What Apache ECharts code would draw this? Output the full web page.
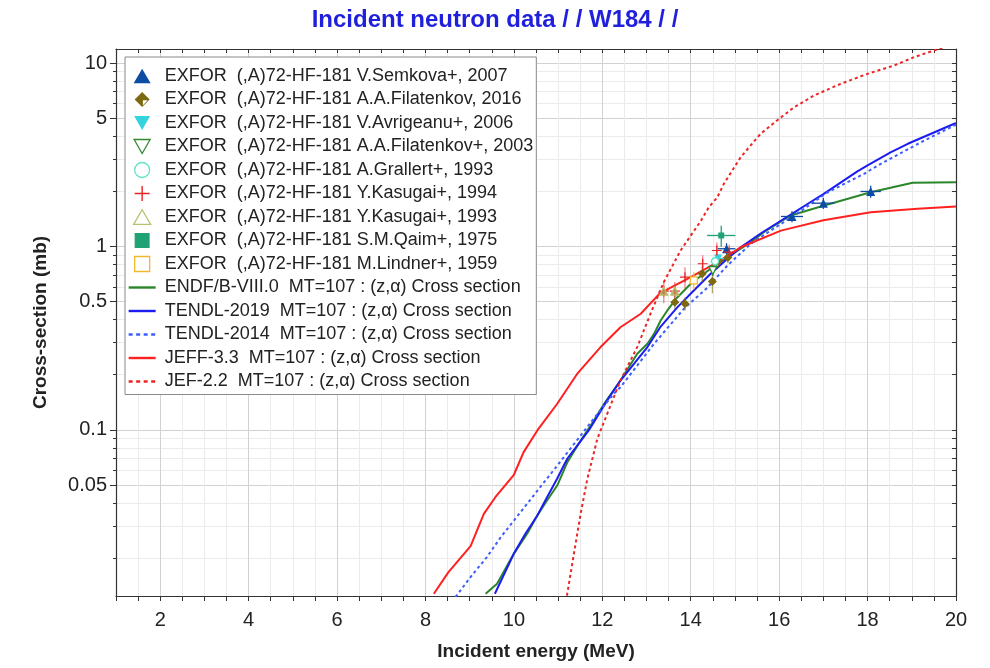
<!DOCTYPE html>
<html><head><meta charset="utf-8">
<script src="https://cdn.jsdelivr.net/npm/echarts@6/dist/echarts.min.js"></script>
<style>html,body{margin:0;padding:0;background:#fff}#c{width:990px;height:668px}</style>
</head><body><div id="c"></div>
<script>
// ---------- axis ticks / labels ----------
const xTickLabels = [2, 4, 6, 8, 10, 12, 14, 16, 18, 20];
const yTickLabels = [0.05, 0.1, 0.5, 1, 5, 10];
const yGridValues = [0.02, 0.03, 0.04, 0.05, 0.06, 0.07, 0.08, 0.09, 0.1, 0.2, 0.3, 0.4, 0.5, 0.6, 0.7, 0.8, 0.9, 1, 2, 3, 4, 5, 6, 7, 8, 9, 10];
const yRange = [0.01245, 11.92];
const xRange = [1, 20];

// ---------- EXFOR data (E in MeV, cross-section in mb) ----------
const semkovaE = [14.81, 16.29, 17.0, 18.07];
const semkovaXS = [0.972, 1.457, 1.722, 1.994];
const semkovaDE = [0.2, 0.25, 0.25, 0.23];
const semkovaDXS = [0.07, 0.1, 0.12, 0.15];

const filat16E = [13.64, 13.87, 14.26, 14.49, 14.63, 14.84];
const filat16XS = [0.497, 0.487, 0.71, 0.645, 0.829, 0.871];
const filat16DE = [0, 0, 0, 0, 0, 0];
const filat16DXS = [0.04, 0.04, 0.07, 0.09, 0.06, 0.06];

const avrigE = [14.62];
const avrigXS = [0.86];
const avrigDE = [0.14];
const avrigDXS = [0.05];

const filat03E = [14.5];
const filat03XS = [0.74];
const filat03DE = [0.05];
const filat03DXS = [0.05];

const grallE = [14.55];
const grallXS = [0.83];
const grallDE = [0.1];
const grallDXS = [0.05];

const kas94E = [13.39, 13.64, 13.87, 14.27, 14.59, 14.87];
const kas94XS = [0.571, 0.571, 0.68, 0.805, 0.951, 0.931];
const kas94DE = [0, 0, 0, 0, 0, 0];
const kas94DXS = [0.08, 0.07, 0.09, 0.09, 0.1, 0.09];

const kas93E = [13.39, 13.64];
const kas93XS = [0.571, 0.571];
const kas93DE = [0, 0];
const kas93DXS = [0.04, 0.04];

const qaimE = [14.69];
const qaimXS = [1.148];
const qaimDE = [0.32];
const qaimDXS = [0.15];

const lindE = [14.07];
const lindXS = [0.653];
const lindDE = [0];
const lindDXS = [0.07];

// ---------- evaluated cross sections ----------
const endfE = [9.36, 9.62, 10.0, 10.3, 10.53, 10.75, 10.98, 11.21, 11.51, 11.81, 12.04, 12.41, 12.79, 13.02, 13.17, 13.32, 13.47, 13.7, 14.0, 14.38, 14.83, 15.36, 15.66, 16.26, 17.02, 18.07, 19.02, 20.0];
const endfXS = [0.0128, 0.0145, 0.0212, 0.0272, 0.0342, 0.0413, 0.0498, 0.0668, 0.0877, 0.1126, 0.139, 0.186, 0.26, 0.295, 0.334, 0.395, 0.448, 0.529, 0.626, 0.735, 0.874, 1.055, 1.2, 1.475, 1.673, 1.976, 2.224, 2.24];

const tendl19E = [9.57, 10.0, 10.26, 10.53, 10.75, 10.98, 11.21, 11.51, 11.7, 12.11, 12.41, 13.02, 13.32, 13.7, 14.07, 14.45, 14.83, 15.13, 15.58, 16.11, 16.3, 16.73, 17.0, 17.77, 18.0, 18.53, 18.91, 19.96, 20.0];
const tendl19XS = [0.0128, 0.0212, 0.0272, 0.0342, 0.043, 0.0544, 0.0699, 0.087, 0.1, 0.145, 0.186, 0.283, 0.366, 0.467, 0.576, 0.71, 0.857, 0.991, 1.177, 1.416, 1.51, 1.759, 1.93, 2.567, 2.764, 3.265, 3.628, 4.664, 4.7];

const tendl14E = [8.68, 9.02, 9.39, 9.7, 10.0, 10.3, 10.6, 10.9, 11.21, 11.51, 11.89, 12.26, 12.41, 13.17, 13.85, 14.38, 14.83, 15.36, 15.81, 16.41, 17.09, 17.92, 18.3, 19.21, 19.96, 20.0];
const tendl14XS = [0.0123, 0.0158, 0.0203, 0.026, 0.0321, 0.0396, 0.049, 0.0604, 0.0753, 0.0933, 0.1225, 0.1575, 0.171, 0.295, 0.459, 0.598, 0.788, 1.034, 1.222, 1.513, 1.969, 2.49, 2.823, 3.702, 4.565, 4.6];

const jeff33E = [8.19, 8.52, 9.02, 9.32, 9.58, 10.0, 10.22, 10.53, 10.98, 11.43, 11.96, 12.41, 12.87, 13.3, 14.0, 14.6, 15.13, 16.04, 17.0, 18.07, 19.13, 20.0];
const jeff33XS = [0.0128, 0.0168, 0.0233, 0.0349, 0.043, 0.057, 0.0757, 0.0994, 0.139, 0.202, 0.283, 0.363, 0.43, 0.555, 0.68, 0.82, 0.99, 1.22, 1.39, 1.538, 1.605, 1.652];

const jef22E = [11.2, 11.32, 11.51, 11.66, 11.89, 12.41, 12.79, 13.09, 13.39, 13.77, 14.22, 14.41, 14.6, 14.75, 15.13, 15.58, 16.0, 16.34, 16.79, 17.39, 18.0, 18.6, 19.05, 19.55, 20.0];
const jef22XS = [0.0125, 0.0187, 0.035, 0.054, 0.09, 0.186, 0.283, 0.43, 0.639, 0.951, 1.369, 1.637, 1.85, 2.197, 3.067, 4.114, 4.966, 5.743, 6.65, 7.70, 8.73, 9.69, 10.76, 11.8, 12.9];

// ---------- build ----------
const L = v => Math.log10(v);
const pts = (E, XS) => E.map((e, i) => [e, L(XS[i])]);
const errPts = (E, XS, DE, DXS) => E.map((e, i) => [e, L(XS[i]), DE[i], L(Math.max(XS[i] - DXS[i], 1e-4)), L(XS[i] + DXS[i])]);

// legend icons: drawn in a 27x15 box (lone move-to points fix the box so shapes keep their aspect)
const BOX = 'M0,0 M27,15 ';
const icon = p => 'path://' + BOX + p;
const downTri = 'path://M0,0L10,0L5,9Z';
const plusPath = 'path://M4.4,0H5.6V10H4.4Z M0,4.4H10V5.6H0Z';
const icons = {
  upTri: icon('M5,14.8L13.5,0.2L22,14.8Z'),
  diamondHalf: icon('M13.5,-0.5L21.5,7.5L13.5,15.5L5.5,7.5Z M14.3,8.4L14.3,13.6L19.5,8.4Z'),
  downTri: icon('M5.5,0.5L21.5,0.5L13.5,14.5Z'),
  circle: icon('M5.8,7.5A7.7,7.7 0 1 0 21.2,7.5A7.7,7.7 0 1 0 5.8,7.5Z'),
  plus: icon('M12.8,0H14.2V15H12.8Z M6,6.8H21V8.2H6Z'),
  square: icon('M5.5,-0.5H21.5V15.5H5.5Z'),
  solid: icon('M0,6.3H27V8.7H0Z'),
  dotted: icon('M0,6.3H4V8.7H0Z M7.5,6.3H11.5V8.7H7.5Z M15,6.3H19V8.7H15Z M22.5,6.3H26.5V8.7H22.5Z')
};

const exfor = [
  {name: 'EXFOR  (,A)72-HF-181 V.Semkova+, 2007', E: semkovaE, XS: semkovaXS, DE: semkovaDE, DXS: semkovaDXS,
   symbol: 'triangle', icon: icons.upTri, size: 9, style: {color: '#0c4ca4'}, bar: '#0c4ca4'},
  {name: 'EXFOR  (,A)72-HF-181 A.A.Filatenkov, 2016', E: filat16E, XS: filat16XS, DE: filat16DE, DXS: filat16DXS,
   symbol: 'diamond', icon: icons.diamondHalf, size: 9, style: {color: '#7d6a10'}, bar: 'rgba(125,106,16,0.6)'},
  {name: 'EXFOR  (,A)72-HF-181 V.Avrigeanu+, 2006', E: avrigE, XS: avrigXS, DE: avrigDE, DXS: avrigDXS,
   symbol: downTri, icon: icons.downTri, size: 8, style: {color: '#35d3de'}, bar: '#35d3de'},
  {name: 'EXFOR  (,A)72-HF-181 A.A.Filatenkov+, 2003', E: filat03E, XS: filat03XS, DE: filat03DE, DXS: filat03DXS,
   symbol: downTri, icon: icons.downTri, size: 8, style: {color: '#ffffff', borderColor: '#2e8b2e', borderWidth: 1.3}, bar: '#2e8b2e'},
  {name: 'EXFOR  (,A)72-HF-181 A.Grallert+, 1993', E: grallE, XS: grallXS, DE: grallDE, DXS: grallDXS,
   symbol: 'circle', icon: icons.circle, size: 7, style: {color: '#ffffff', borderColor: '#5fe3c6', borderWidth: 1.3}, bar: '#5fe3c6'},
  {name: 'EXFOR  (,A)72-HF-181 Y.Kasugai+, 1994', E: kas94E, XS: kas94XS, DE: kas94DE, DXS: kas94DXS,
   symbol: plusPath, icon: icons.plus, size: 10, style: {color: '#e82222'}, bar: 'rgba(232,34,34,0.55)'},
  {name: 'EXFOR  (,A)72-HF-181 Y.Kasugai+, 1993', E: kas93E, XS: kas93XS, DE: kas93DE, DXS: kas93DXS,
   symbol: 'triangle', icon: icons.upTri, size: 8, style: {color: 'rgba(190,140,90,0.85)', borderColor: '#b6c46c', borderWidth: 1.2},
   legendStyle: {color: '#ffffff', borderColor: '#b6c46c', borderWidth: 1.3}, bar: 'rgba(232,100,100,0.45)'},
  {name: 'EXFOR  (,A)72-HF-181 S.M.Qaim+, 1975', E: qaimE, XS: qaimXS, DE: qaimDE, DXS: qaimDXS,
   symbol: 'rect', icon: icons.square, size: 6, style: {color: '#1fa374'}, bar: '#1fa374'},
  {name: 'EXFOR  (,A)72-HF-181 M.Lindner+, 1959', E: lindE, XS: lindXS, DE: lindDE, DXS: lindDXS,
   symbol: 'rect', icon: icons.square, size: 7, style: {color: '#ffffff', borderColor: '#f2b830', borderWidth: 1.3}, bar: '#f2c040'}
];
const evals = [
  {name: 'ENDF/B-VIII.0  MT=107 : (z,α) Cross section', E: endfE, XS: endfXS, color: '#2b862b', type: 'solid'},
  {name: 'TENDL-2019  MT=107 : (z,α) Cross section', E: tendl19E, XS: tendl19XS, color: '#1c1cf2', type: 'solid'},
  {name: 'TENDL-2014  MT=107 : (z,α) Cross section', E: tendl14E, XS: tendl14XS, color: '#3d5dff', type: [3, 3]},
  {name: 'JEFF-3.3  MT=107 : (z,α) Cross section', E: jeff33E, XS: jeff33XS, color: '#ff2020', type: 'solid'},
  {name: 'JEF-2.2  MT=107 : (z,α) Cross section', E: jef22E, XS: jef22XS, color: '#ee2424', type: [3, 3]}
];

const series = [];
evals.forEach(s => series.push({
  name: s.name, type: 'line', data: pts(s.E, s.XS), symbol: 'none', showSymbol: false,
  lineStyle: {color: s.color, width: 2, type: s.type}, itemStyle: {color: s.color},
  clip: true, z: 3, animation: false
}));
exfor.forEach(s => {
  const barColor = s.bar;
  series.push({
    name: s.name + ' err', type: 'custom', data: errPts(s.E, s.XS, s.DE, s.DXS), z: 4, animation: false,
    clip: true,
    renderItem: (params, api) => {
      const x = api.value(0), y = api.value(1), dx = api.value(2), ylo = api.value(3), yhi = api.value(4);
      const c = api.coord([x, y]);
      const lo = api.coord([x, ylo]), hi = api.coord([x, yhi]);
      const left = api.coord([x - dx, y]), right = api.coord([x + dx, y]);
      const st = {stroke: barColor, lineWidth: 1.3};
      const ch = [{type: 'line', shape: {x1: lo[0], y1: lo[1], x2: hi[0], y2: hi[1]}, style: st}];
      if (dx > 0) ch.push({type: 'line', shape: {x1: left[0], y1: c[1], x2: right[0], y2: c[1]}, style: st});
      return {type: 'group', children: ch};
    }
  });
  series.push({
    name: s.name, type: 'scatter', data: pts(s.E, s.XS), symbol: s.symbol, symbolSize: s.size,
    itemStyle: Object.assign({opacity: 1}, s.style), z: 5, animation: false
  });
});

const legendData = exfor.map(s => ({name: s.name, icon: s.icon, itemStyle: s.legendStyle || s.style}))
  .concat(evals.map(s => ({name: s.name, icon: s.type === 'solid' ? icons.solid : icons.dotted,
    itemStyle: {color: s.color, borderWidth: 0}})));

const yLog = [L(yRange[0]), L(yRange[1])];
const axisCol = '#333';
const fontFam = 'Liberation Sans, Arial, sans-serif';

const option = {
  animation: false,
  backgroundColor: '#fff',
  title: {
    text: 'Incident neutron data / / W184 / /', left: 'center', top: 3,
    textStyle: {color: '#1f1fdc', fontSize: 24, fontWeight: 'bold', fontFamily: fontFam}
  },
  grid: {left: 116, right: 34, top: 49, bottom: 72, containLabel: false, outerBoundsMode: 'none'},
  legend: {
    orient: 'vertical', left: 125, top: 57, padding: [10, 3, 4, 3],
    itemWidth: 27, itemHeight: 15, itemGap: 5.5,
    backgroundColor: '#fff', borderColor: '#8a8a8a', borderWidth: 1,
    textStyle: {fontSize: 18, lineHeight: 18, color: '#222', fontFamily: fontFam, padding: [0, 0, 0, 4]},
    data: legendData, z: 10
  },
  xAxis: [
    {type: 'value', position: 'bottom', min: xRange[0], max: xRange[1], interval: 0.5,
     name: 'Incident energy (MeV)', nameLocation: 'middle', nameGap: 46,
     nameTextStyle: {fontSize: 19, fontWeight: 'bold', color: '#222', fontFamily: fontFam},
     axisLine: {show: true, onZero: false, lineStyle: {color: axisCol, width: 1.2}},
     axisTick: {show: true, length: 5, lineStyle: {color: axisCol}},
     axisLabel: {show: true, customValues: xTickLabels, fontSize: 20, color: '#222', margin: 14, fontFamily: fontFam},
     splitLine: {show: true, lineStyle: {color: '#ebebeb', width: 1}}},
    {type: 'value', position: 'bottom', min: xRange[0], max: xRange[1],
     axisLine: {show: false, onZero: false}, axisLabel: {show: false},
     axisTick: {show: false, customValues: xTickLabels},
     splitLine: {show: true, customValues: xTickLabels, lineStyle: {color: '#d2d2d2', width: 1}}},
    {type: 'value', position: 'top', min: xRange[0], max: xRange[1], interval: 0.5,
     axisLine: {show: true, onZero: false, lineStyle: {color: axisCol, width: 1.2}},
     axisTick: {show: true, inside: true, length: 4, lineStyle: {color: axisCol}},
     axisLabel: {show: false}, splitLine: {show: false}}
  ],
  yAxis: [
    {type: 'value', position: 'left', min: yLog[0], max: yLog[1],
     name: 'Cross-section (mb)', nameLocation: 'middle', nameGap: 66,
     nameTextStyle: {fontSize: 19, fontWeight: 'bold', color: '#222', fontFamily: fontFam},
     axisLine: {show: true, onZero: false, lineStyle: {color: axisCol, width: 1.2}},
     axisTick: {show: true, length: 3, customValues: yGridValues.map(L), lineStyle: {color: axisCol}},
     axisLabel: {show: true, customValues: yTickLabels.map(L), fontSize: 20, color: '#222', margin: 9, fontFamily: fontFam,
       formatter: v => String(parseFloat(Math.pow(10, v).toPrecision(3)))},
     splitLine: {show: true, customValues: yGridValues.map(L), lineStyle: {color: '#ebebeb', width: 1}}},
    {type: 'value', position: 'left', min: yLog[0], max: yLog[1],
     axisLine: {show: false, onZero: false}, axisLabel: {show: false},
     axisTick: {show: true, length: 6, customValues: yTickLabels.map(L), lineStyle: {color: axisCol}},
     splitLine: {show: true, customValues: yTickLabels.map(L), lineStyle: {color: '#d2d2d2', width: 1}}},
    {type: 'value', position: 'right', min: yLog[0], max: yLog[1],
     axisLine: {show: true, onZero: false, lineStyle: {color: axisCol, width: 1.2}}, axisLabel: {show: false},
     axisTick: {show: true, inside: true, length: 4, customValues: yGridValues.map(L), lineStyle: {color: axisCol}},
     splitLine: {show: false}}
  ],
  series: series
};

const chart = echarts.init(document.getElementById('c'), null, {renderer: 'canvas'});
chart.setOption(option);
</script>
</body></html>
